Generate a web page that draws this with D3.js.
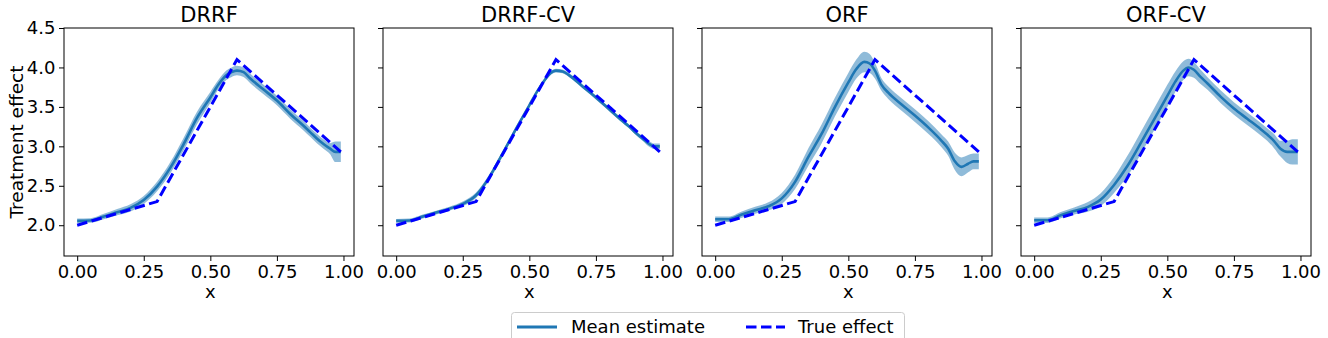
<!DOCTYPE html>
<html>
<head>
<meta charset="utf-8">
<script src="https://cdn.jsdelivr.net/npm/d3@7"></script>
<style>
  html, body { margin: 0; padding: 0; background: #fff; }
  svg { display: block; font-family: "DejaVu Sans", sans-serif; }
</style>
</head>
<body>
<svg id="chart" width="1328" height="338"></svg>
<script>
// ---------------- data ----------------
const methods = ["DRRF", "DRRF-CV", "ORF", "ORF-CV"];
const xGrid = [0, 0.05, 0.1, 0.15, 0.2, 0.25, 0.3, 0.35, 0.4, 0.45, 0.5, 0.53, 0.56, 0.58, 0.6, 0.625, 0.65, 0.7, 0.75, 0.8, 0.85, 0.875, 0.9, 0.925, 0.95, 0.97, 0.99];

const meanDRRF   = [2.055, 2.06, 2.11, 2.165, 2.22, 2.32, 2.49, 2.73, 3.03, 3.36, 3.62, 3.78, 3.90, 3.94, 3.96, 3.94, 3.86, 3.72, 3.58, 3.41, 3.26, 3.18, 3.10, 3.03, 2.97, 2.93, 2.93];
const spreadDRRF = [0.03, 0.03, 0.035, 0.04, 0.045, 0.05, 0.06, 0.07, 0.08, 0.08, 0.07, 0.06, 0.06, 0.06, 0.06, 0.06, 0.06, 0.06, 0.06, 0.06, 0.06, 0.06, 0.06, 0.06, 0.07, 0.13, 0.13];

const meanDRRFCV   = [2.055, 2.06, 2.11, 2.16, 2.21, 2.27, 2.38, 2.61, 2.91, 3.22, 3.52, 3.70, 3.85, 3.93, 3.96, 3.95, 3.90, 3.76, 3.62, 3.47, 3.32, 3.25, 3.17, 3.10, 3.03, 3.00, 3.00];
const spreadDRRFCV = [0.025, 0.025, 0.025, 0.025, 0.025, 0.03, 0.035, 0.035, 0.035, 0.03, 0.025, 0.025, 0.025, 0.025, 0.025, 0.025, 0.025, 0.025, 0.025, 0.025, 0.025, 0.025, 0.025, 0.03, 0.035, 0.035, 0.035];

const meanORF   = [2.076, 2.076, 2.135, 2.19, 2.24, 2.34, 2.55, 2.865, 3.16, 3.50, 3.81, 3.98, 4.07, 4.05, 3.96, 3.78, 3.68, 3.53, 3.39, 3.24, 3.07, 2.97, 2.81, 2.74, 2.78, 2.81, 2.81];
const spreadORF = [0.035, 0.035, 0.04, 0.045, 0.05, 0.07, 0.09, 0.11, 0.12, 0.12, 0.12, 0.12, 0.13, 0.12, 0.1, 0.08, 0.08, 0.08, 0.08, 0.08, 0.08, 0.09, 0.11, 0.12, 0.11, 0.1, 0.1];

const meanORFCV   = [2.063, 2.063, 2.127, 2.18, 2.23, 2.325, 2.51, 2.75, 3.04, 3.34, 3.64, 3.82, 3.96, 4.00, 3.97, 3.88, 3.80, 3.63, 3.48, 3.35, 3.22, 3.15, 3.07, 2.97, 2.93, 2.93, 2.93];
const spreadORFCV = [0.035, 0.035, 0.04, 0.045, 0.06, 0.08, 0.1, 0.13, 0.14, 0.14, 0.14, 0.13, 0.12, 0.11, 0.1, 0.09, 0.08, 0.08, 0.08, 0.08, 0.08, 0.08, 0.09, 0.1, 0.14, 0.16, 0.16];

const trueX = [0, 0.3, 0.6, 0.99];
const trueY = [2.0, 2.3, 4.1, 2.93];

const xTicks = [0, 0.25, 0.5, 0.75, 1.0];
const yTicks = [2.0, 2.5, 3.0, 3.5, 4.0, 4.5];
const xLabel = "x";
const yLabel = "Treatment effect";
const legendLabels = ["Mean estimate", "True effect"];

const means = [meanDRRF, meanDRRFCV, meanORF, meanORFCV];
const spreads = [spreadDRRF, spreadDRRFCV, spreadORF, spreadORFCV];

// ---------------- layout ----------------
const svg = d3.select("#chart");
const panelLeft0 = 64, panelStep = 319, panelW = 290, panelTop = 28, panelH = 228;
const meanColor = "#1f77b4", trueColor = "#0000ff";

const x = d3.scaleLinear().domain([-0.0495, 1.0395]).range([0, panelW]);
const y = d3.scaleLinear().domain([1.61, 4.5]).range([panelH, 0]);

const area = d3.area()
  .x(d => x(d.x)).y0(d => y(d.m - d.s)).y1(d => y(d.m + d.s))
  .curve(d3.curveMonotoneX);
const line = d3.line().x(d => x(d.x)).y(d => y(d.m)).curve(d3.curveMonotoneX);
const trueLine = d3.line().x(d => x(d[0])).y(d => y(d[1]));
const trueData = trueX.map((v, i) => [v, trueY[i]]);

methods.forEach((name, i) => {
  const g = svg.append("g").attr("transform", `translate(${panelLeft0 + i * panelStep},${panelTop})`);
  const data = xGrid.map((xv, k) => ({ x: xv, m: means[i][k], s: spreads[i][k] }));

  g.append("path").datum(data).attr("d", area)
    .attr("fill", meanColor).attr("fill-opacity", 0.5).attr("stroke", "none");
  g.append("path").datum(data).attr("d", line)
    .attr("fill", "none").attr("stroke", meanColor).attr("stroke-width", 2.6);
  g.append("path").datum(trueData).attr("d", trueLine)
    .attr("fill", "none").attr("stroke", trueColor).attr("stroke-width", 3)
    .attr("stroke-dasharray", "10.5,4.5");

  // axes
  const xa = g.append("g").attr("transform", `translate(0,${panelH})`)
    .call(d3.axisBottom(x).tickValues(xTicks).tickFormat(d3.format(".2f")).tickSize(5).tickSizeOuter(0).tickPadding(4));
  const ya = g.append("g")
    .call(d3.axisLeft(y).tickValues(yTicks).tickFormat(d3.format(".1f")).tickSize(5).tickSizeOuter(0).tickPadding(3.5));
  [xa, ya].forEach(a => {
    a.select(".domain").remove();
    a.selectAll("line").attr("stroke", "#000").attr("stroke-width", 1);
    a.selectAll("text").attr("font-size", 18).attr("fill", "#000").attr("font-family", "DejaVu Sans");
  });
  if (i > 0) ya.selectAll("text").remove();

  // frame
  g.append("rect").attr("x", 0).attr("y", 0).attr("width", panelW).attr("height", panelH)
    .attr("fill", "none").attr("stroke", "#000").attr("stroke-width", 1);

  // title
  g.append("text").attr("x", panelW / 2).attr("y", -6).attr("text-anchor", "middle")
    .attr("font-size", 21).attr("fill", "#000").text(name);
  // x label
  g.append("text").attr("x", x(0.5)).attr("y", 270).attr("text-anchor", "middle")
    .attr("font-size", 18).attr("fill", "#000").text(xLabel);
  if (i === 0) {
    g.append("text").attr("transform", `translate(${22.5 - panelLeft0},${panelH / 2}) rotate(-90)`)
      .attr("text-anchor", "middle").attr("font-size", 18.5).attr("fill", "#000").text(yLabel);
  }
});

// legend
const lg = svg.append("g").attr("transform", "translate(511,312)");
lg.append("rect").attr("x", 0.5).attr("y", 0.5).attr("width", 393).attr("height", 40).attr("rx", 3)
  .attr("fill", "#fff").attr("fill-opacity", 0.8).attr("stroke", "#cccccc").attr("stroke-width", 1);
lg.append("line").attr("x1", 6).attr("x2", 46).attr("y1", 15).attr("y2", 15)
  .attr("stroke", meanColor).attr("stroke-width", 3);
lg.append("text").attr("x", 60).attr("y", 21).attr("font-size", 18).attr("fill", "#000").text(legendLabels[0]);
lg.append("line").attr("x1", 235).attr("x2", 274).attr("y1", 15).attr("y2", 15)
  .attr("stroke", trueColor).attr("stroke-width", 3).attr("stroke-dasharray", "10.5,4.5");
lg.append("text").attr("x", 287).attr("y", 21).attr("font-size", 18).attr("fill", "#000").text(legendLabels[1]);
</script>
</body>
</html>
